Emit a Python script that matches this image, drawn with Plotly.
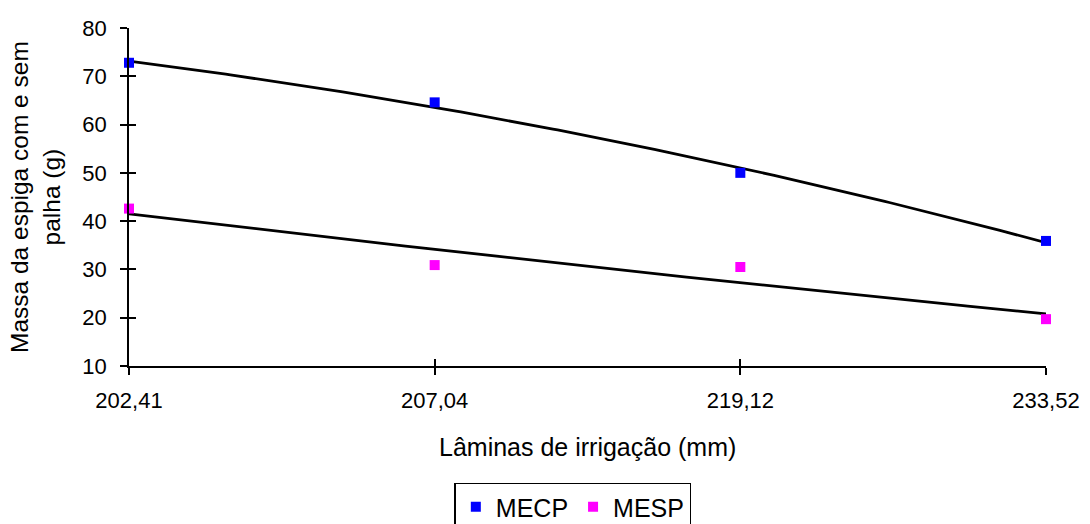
import numpy as np
import plotly.graph_objects as go

categories = ["202,41", "207,04", "219,12", "233,52"]
mecp = [72.8, 64.6, 50.0, 35.9]
mesp = [42.6, 30.9, 30.5, 19.7]
y_ticks = [10, 20, 30, 40, 50, 60, 70, 80]

xi = np.arange(len(categories))  # category index positions
FONT = "Liberation Sans, Arial, sans-serif"

def trend(vals):
    # Excel-style 2nd-order polynomial trendline fitted to the data
    c = np.polyfit(xi, vals, 2)
    xs = np.linspace(0, len(categories) - 1, 200)
    return xs, np.polyval(c, xs)

fig = go.Figure()
for vals in (mecp, mesp):
    xs, ys = trend(vals)
    fig.add_trace(go.Scatter(x=xs, y=ys, mode="lines", line=dict(color="black", width=2.8),
                             showlegend=False, hoverinfo="skip", cliponaxis=False))
fig.add_trace(go.Scatter(x=xi, y=mecp, mode="markers", name="MECP",
                         marker=dict(symbol="square", size=10, color="#0000FF"), cliponaxis=False))
fig.add_trace(go.Scatter(x=xi, y=mesp, mode="markers", name="MESP",
                         marker=dict(symbol="square", size=10, color="#FF00FF"), cliponaxis=False))
# invisible trace for overlay axes (inside tick halves)
fig.add_trace(go.Scatter(x=[0], y=[10], xaxis="x2", yaxis="y2", mode="markers",
                         marker=dict(opacity=0), showlegend=False, hoverinfo="skip"))

axis_common = dict(showgrid=False, zeroline=False, ticklen=7, tickwidth=1.5, tickcolor="black")
fig.update_layout(
    width=1090, height=524,
    margin=dict(l=129, r=44, t=28, b=158, autoexpand=False),
    paper_bgcolor="white", plot_bgcolor="white",
    font=dict(family=FONT, size=22, color="black"),
    xaxis=dict(range=[0, len(categories) - 1], tickvals=list(xi), ticktext=categories,
               ticks="outside", showline=True, linecolor="black", linewidth=1.5,
               ticklabelstandoff=7, **axis_common),
    yaxis=dict(range=[10, 80], tickvals=y_ticks, ticks="outside", showline=True,
               linecolor="black", linewidth=1.5, ticklabelstandoff=9, **axis_common),
    xaxis2=dict(range=[0, len(categories) - 1], tickvals=list(xi), ticks="inside",
                showticklabels=False, overlaying="x", anchor="y2", side="bottom", **axis_common),
    yaxis2=dict(range=[10, 80], tickvals=y_ticks, ticks="inside", showticklabels=False,
                overlaying="y", anchor="x2", side="left", **axis_common),
    legend=dict(orientation="h", x=0.484, xanchor="center", y=-0.345, yanchor="top",
                bordercolor="black", borderwidth=1.5, font=dict(size=25),
                itemwidth=30, tracegroupgap=0),
    annotations=[
        dict(text="Lâminas de irrigação (mm)", xref="paper", yref="paper", x=0.5, y=-0.24,
             xanchor="center", yanchor="middle", showarrow=False, font=dict(size=25)),
        dict(text="Massa da espiga com e sem<br>palha (g)", xref="paper", yref="paper",
             x=-0.1025, y=0.5, xanchor="center", yanchor="middle", textangle=-90,
             showarrow=False, font=dict(size=24.5)),
    ],
)
fig.write_html("out.html")
